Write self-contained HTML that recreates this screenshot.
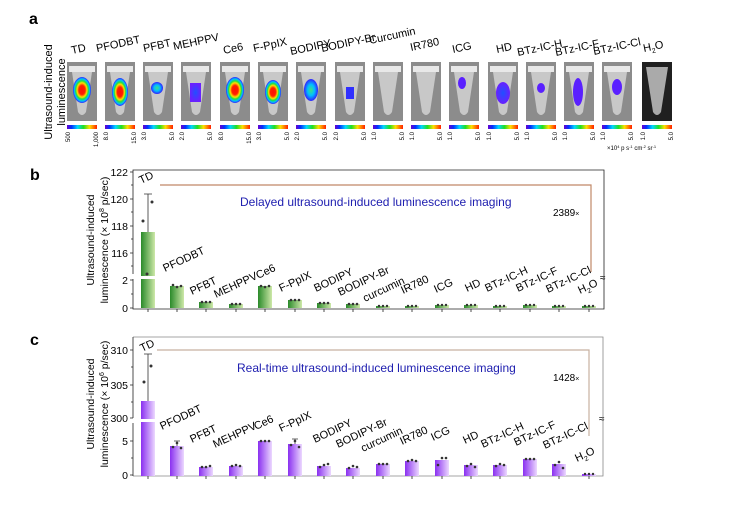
<!DOCTYPE html>
<html><head><meta charset="utf-8"><style>
html,body{margin:0;padding:0;background:#fff}
svg{display:block;font-family:"Liberation Sans",Arial,sans-serif}
</style></head><body>
<svg width="738" height="519" viewBox="0 0 738 519" xmlns="http://www.w3.org/2000/svg">
<defs>
<linearGradient id="cb" x1="0" x2="1"><stop offset="0" stop-color="#6a00d0"/><stop offset=".15" stop-color="#0030ff"/><stop offset=".35" stop-color="#00d8ff"/><stop offset=".55" stop-color="#20e020"/><stop offset=".75" stop-color="#ffe000"/><stop offset="1" stop-color="#ff2000"/></linearGradient>
<linearGradient id="gb" x1="0" x2="1"><stop offset="0" stop-color="#2a8a2a"/><stop offset="1" stop-color="#cde8a8"/></linearGradient>
<linearGradient id="pb" x1="0" x2="1"><stop offset="0" stop-color="#8a30f0"/><stop offset="1" stop-color="#ecd8ff"/></linearGradient>
<radialGradient id="hot"><stop offset="0" stop-color="#ff1000"/><stop offset=".35" stop-color="#ff2000"/><stop offset=".55" stop-color="#ffe000"/><stop offset=".7" stop-color="#20e040"/><stop offset=".85" stop-color="#00c0ff"/><stop offset="1" stop-color="#3020ff"/></radialGradient>
<radialGradient id="mid"><stop offset="0" stop-color="#40e080"/><stop offset=".5" stop-color="#00c0ff"/><stop offset="1" stop-color="#3020ff"/></radialGradient>
<radialGradient id="low"><stop offset="0" stop-color="#2050ff"/><stop offset="1" stop-color="#6a20ff"/></radialGradient>
<g id="tube"><rect x="0" y="0" width="30" height="59" fill="#8c8c8c"/><rect x="2" y="4" width="26" height="6" fill="#e8e8e8"/><path d="M5 10 L25 10 L19 50 Q15 56 11 50 Z" fill="#c8c8c8"/></g>
</defs>
<text x="29" y="24" font-size="16" font-weight="bold">a</text>
<text transform="translate(52,92) rotate(-90)" font-size="11" text-anchor="middle">Ultrasound-induced</text>
<text transform="translate(65,92) rotate(-90)" font-size="11" text-anchor="middle">luminescence</text>
<g font-size="11">
<text transform="translate(72,54) rotate(-12)">TD</text>
<text transform="translate(97,52) rotate(-12)">PFODBT</text>
<text transform="translate(144,52) rotate(-12)">PFBT</text>
<text transform="translate(174,50) rotate(-12)">MEHPPV</text>
<text transform="translate(224,54) rotate(-12)">Ce6</text>
<text transform="translate(254,52) rotate(-12)">F-PpIX</text>
<text transform="translate(291,55) rotate(-12)">BODIPY</text>
<text transform="translate(322,52) rotate(-12)">BODIPY-Br</text>
<text transform="translate(370,44) rotate(-12)" >Curcumin</text>
<text transform="translate(411,51) rotate(-12)">IR780</text>
<text transform="translate(453,53) rotate(-12)">ICG</text>
<text transform="translate(497,53) rotate(-12)">HD</text>
<text transform="translate(518,56) rotate(-12)">BTz-IC-H</text>
<text transform="translate(556,56) rotate(-12)">BTz-IC-F</text>
<text transform="translate(594,55) rotate(-12)">BTz-IC-Cl</text>
<text transform="translate(644,52) rotate(-12)">H<tspan font-size="7" dy="3">2</tspan><tspan dy="-3">O</tspan></text>
</g>
<g>
<use href="#tube" x="67" y="62"/><ellipse cx="82" cy="90" rx="9" ry="13" fill="url(#hot)"/>
<use href="#tube" x="105" y="62"/><ellipse cx="120" cy="92" rx="8" ry="14" fill="url(#hot)"/>
<use href="#tube" x="143" y="62"/><ellipse cx="157" cy="88" rx="6" ry="6" fill="url(#mid)"/>
<use href="#tube" x="181" y="62"/><rect x="190" y="83" width="11" height="19" fill="url(#low)"/>
<use href="#tube" x="220" y="62"/><ellipse cx="235" cy="90" rx="9" ry="13" fill="url(#hot)"/>
<use href="#tube" x="258" y="62"/><ellipse cx="273" cy="92" rx="8" ry="12" fill="url(#hot)"/>
<use href="#tube" x="296" y="62"/><ellipse cx="311" cy="90" rx="7" ry="11" fill="url(#mid)"/>
<use href="#tube" x="335" y="62"/><rect x="346" y="87" width="8" height="12" fill="#3030ff"/>
<use href="#tube" x="373" y="62"/>
<use href="#tube" x="411" y="62"/>
<use href="#tube" x="449" y="62"/><ellipse cx="462" cy="83" rx="4" ry="6" fill="#5a20ff"/>
<use href="#tube" x="488" y="62"/><ellipse cx="503" cy="93" rx="7" ry="11" fill="url(#low)"/>
<use href="#tube" x="526" y="62"/><ellipse cx="541" cy="88" rx="4" ry="5" fill="#5a20ff"/>
<use href="#tube" x="564" y="62"/><ellipse cx="578" cy="92" rx="5" ry="14" fill="#5a20ff"/>
<use href="#tube" x="602" y="62"/><ellipse cx="617" cy="87" rx="5" ry="8" fill="#5a20ff"/>
<rect x="642" y="62" width="30" height="59" fill="#202020"/><path d="M646 67 L668 67 L661 112 Q657 118 653 112 Z" fill="#aaa"/>
</g>
<g fill="url(#cb)">
<rect x="67" y="125" width="30" height="4"/><rect x="105" y="125" width="30" height="4"/><rect x="143" y="125" width="30" height="4"/><rect x="181" y="125" width="30" height="4"/><rect x="220" y="125" width="30" height="4"/><rect x="258" y="125" width="30" height="4"/><rect x="296" y="125" width="30" height="4"/><rect x="335" y="125" width="30" height="4"/><rect x="373" y="125" width="30" height="4"/><rect x="411" y="125" width="30" height="4"/><rect x="449" y="125" width="30" height="4"/><rect x="488" y="125" width="30" height="4"/><rect x="526" y="125" width="30" height="4"/><rect x="564" y="125" width="30" height="4"/><rect x="602" y="125" width="30" height="4"/><rect x="642" y="125" width="30" height="4"/>
</g>
<g font-size="6" text-anchor="end">
<text transform="translate(70,132) rotate(-90)">500</text><text transform="translate(98,132) rotate(-90)">1,000</text>
<text transform="translate(108,132) rotate(-90)">8.0</text><text transform="translate(136,132) rotate(-90)">15.0</text>
<text transform="translate(146,132) rotate(-90)">3.0</text><text transform="translate(174,132) rotate(-90)">5.0</text>
<text transform="translate(184,132) rotate(-90)">2.0</text><text transform="translate(212,132) rotate(-90)">5.0</text>
<text transform="translate(223,132) rotate(-90)">8.0</text><text transform="translate(251,132) rotate(-90)">15.0</text>
<text transform="translate(261,132) rotate(-90)">3.0</text><text transform="translate(289,132) rotate(-90)">5.0</text>
<text transform="translate(299,132) rotate(-90)">2.0</text><text transform="translate(327,132) rotate(-90)">5.0</text>
<text transform="translate(338,132) rotate(-90)">2.0</text><text transform="translate(366,132) rotate(-90)">5.0</text>
<text transform="translate(376,132) rotate(-90)">1.0</text><text transform="translate(404,132) rotate(-90)">5.0</text>
<text transform="translate(414,132) rotate(-90)">1.0</text><text transform="translate(442,132) rotate(-90)">5.0</text>
<text transform="translate(452,132) rotate(-90)">1.0</text><text transform="translate(480,132) rotate(-90)">5.0</text>
<text transform="translate(491,132) rotate(-90)">1.0</text><text transform="translate(519,132) rotate(-90)">5.0</text>
<text transform="translate(529,132) rotate(-90)">1.0</text><text transform="translate(557,132) rotate(-90)">5.0</text>
<text transform="translate(567,132) rotate(-90)">1.0</text><text transform="translate(595,132) rotate(-90)">5.0</text>
<text transform="translate(605,132) rotate(-90)">1.0</text><text transform="translate(633,132) rotate(-90)">5.0</text>
<text transform="translate(645,132) rotate(-90)">1.0</text><text transform="translate(673,132) rotate(-90)">5.0</text>
</g>
<text x="607" y="150" font-size="6">×10<tspan font-size="4" dy="-2">4</tspan><tspan dy="2"> p s</tspan><tspan font-size="4" dy="-2">-1</tspan><tspan dy="2"> cm</tspan><tspan font-size="4" dy="-2">-2</tspan><tspan dy="2"> sr</tspan><tspan font-size="4" dy="-2">-1</tspan></text>

<!-- panel b -->
<text x="30" y="180" font-size="16" font-weight="bold">b</text>
<text transform="translate(94,240) rotate(-90)" font-size="10.5" text-anchor="middle">Ultrasound-induced</text>
<text transform="translate(108,240) rotate(-90)" font-size="10.5" text-anchor="middle">luminescence (× 10<tspan font-size="7" dy="-4">8</tspan><tspan dy="4"> p/sec)</tspan></text>
<path d="M133 170 H604 V309 H133 Z" fill="none" stroke="#222" stroke-width="0.8"/>
<rect x="131" y="274" width="5" height="5" fill="#fff"/>
<g font-size="10.5" text-anchor="end">
<text x="128" y="176">122</text><text x="128" y="203">120</text><text x="128" y="230">118</text><text x="128" y="257">116</text><text x="128" y="284">2</text><text x="128" y="312">0</text>
</g>
<g stroke="#222" stroke-width="0.8"><path d="M133 172h-3M133 199h-3M133 226h-3M133 253h-3M133 280h-3M133 308h-3M133 185h-2M133 212h-2M133 239h-2M133 266h-2M133 294h-2"/></g>
<path d="M160 185 H591 V272" fill="none" stroke="#c08868" stroke-width="1.2"/>
<text x="240" y="206" font-size="12" fill="#2020b0">Delayed ultrasound-induced luminescence  imaging</text>
<text x="553" y="216" font-size="10">2389<tspan font-size="7">×</tspan></text>
<g fill="url(#gb)">
<rect x="141" y="232" width="14" height="76"/>
<rect x="170" y="286" width="14" height="22"/><rect x="199" y="302" width="14" height="6"/><rect x="229" y="304" width="14" height="4"/><rect x="258" y="286" width="14" height="22"/><rect x="288" y="300" width="14" height="8"/><rect x="317" y="303" width="14" height="5"/><rect x="346" y="304" width="14" height="4"/><rect x="376" y="306" width="14" height="2"/><rect x="405" y="306" width="14" height="2"/><rect x="435" y="305" width="14" height="3"/><rect x="464" y="305" width="14" height="3"/><rect x="493" y="306" width="14" height="2"/><rect x="523" y="305" width="14" height="3"/><rect x="552" y="306" width="14" height="2"/><rect x="582" y="306" width="14" height="2"/>
</g>
<rect x="138" y="276" width="20" height="3" fill="#fff"/>
<path d="M148 232V194M144 194h8" stroke="#333" stroke-width="0.8"/>
<g fill="#333"><circle cx="143" cy="221" r="1.5"/><circle cx="152" cy="202" r="1.5"/><circle cx="147" cy="274" r="1.5"/>
<circle cx="173" cy="285" r="1.3"/><circle cx="177" cy="287" r="1.3"/><circle cx="181" cy="286" r="1.3"/>
<circle cx="202" cy="302" r="1.3"/><circle cx="206" cy="302" r="1.3"/><circle cx="210" cy="302" r="1.3"/>
<circle cx="232" cy="304" r="1.3"/><circle cx="236" cy="304" r="1.3"/><circle cx="240" cy="304" r="1.3"/>
<circle cx="261" cy="286" r="1.3"/><circle cx="265" cy="287" r="1.3"/><circle cx="269" cy="286" r="1.3"/>
<circle cx="291" cy="300" r="1.3"/><circle cx="295" cy="300" r="1.3"/><circle cx="299" cy="300" r="1.3"/>
<circle cx="320" cy="303" r="1.3"/><circle cx="324" cy="303" r="1.3"/><circle cx="328" cy="303" r="1.3"/>
<circle cx="349" cy="304" r="1.3"/><circle cx="353" cy="304" r="1.3"/><circle cx="357" cy="304" r="1.3"/>
<circle cx="379" cy="306" r="1.2"/><circle cx="383" cy="306" r="1.2"/><circle cx="387" cy="306" r="1.2"/>
<circle cx="408" cy="306" r="1.2"/><circle cx="412" cy="306" r="1.2"/><circle cx="416" cy="306" r="1.2"/>
<circle cx="438" cy="305" r="1.2"/><circle cx="442" cy="305" r="1.2"/><circle cx="446" cy="305" r="1.2"/>
<circle cx="467" cy="305" r="1.2"/><circle cx="471" cy="305" r="1.2"/><circle cx="475" cy="305" r="1.2"/>
<circle cx="496" cy="306" r="1.2"/><circle cx="500" cy="306" r="1.2"/><circle cx="504" cy="306" r="1.2"/>
<circle cx="526" cy="305" r="1.2"/><circle cx="530" cy="305" r="1.2"/><circle cx="534" cy="305" r="1.2"/>
<circle cx="555" cy="306" r="1.2"/><circle cx="559" cy="306" r="1.2"/><circle cx="563" cy="306" r="1.2"/>
<circle cx="585" cy="306" r="1.2"/><circle cx="589" cy="306" r="1.2"/><circle cx="593" cy="306" r="1.2"/></g>
<g stroke="#222" stroke-width="0.8"><path d="M148 309v3M177 309v3M206 309v3M236 309v3M265 309v3M295 309v3M324 309v3M353 309v3M383 309v3M412 309v3M442 309v3M471 309v3M500 309v3M530 309v3M559 309v3M589 309v3"/></g>
<text x="600" y="281" font-size="10">≈</text>
<g font-size="11">
<text transform="translate(141,184) rotate(-25)">TD</text>
<text transform="translate(165,272) rotate(-25)">PFODBT</text>
<text transform="translate(192,295) rotate(-25)">PFBT</text>
<text transform="translate(216,298) rotate(-25)">MEHPPV</text>
<text transform="translate(258,279) rotate(-25)">Ce6</text>
<text transform="translate(281,292) rotate(-25)">F-PpIX</text>
<text transform="translate(316,292) rotate(-25)">BODIPY</text>
<text transform="translate(340,296) rotate(-25)">BODIPY-Br</text>
<text transform="translate(365,302) rotate(-25)">curcumin</text>
<text transform="translate(403,294) rotate(-25)">IR780</text>
<text transform="translate(436,293) rotate(-25)">ICG</text>
<text transform="translate(467,292) rotate(-25)">HD</text>
<text transform="translate(487,292) rotate(-25)">BTz-IC-H</text>
<text transform="translate(518,292) rotate(-25)">BTz-IC-F</text>
<text transform="translate(548,293) rotate(-25)">BTz-IC-Cl</text>
<text transform="translate(580,294) rotate(-25)">H<tspan font-size="7" dy="3">2</tspan><tspan dy="-3">O</tspan></text>
</g>

<!-- panel c -->
<text x="30" y="345" font-size="16" font-weight="bold">c</text>
<text transform="translate(94,404) rotate(-90)" font-size="10.5" text-anchor="middle">Ultrasound-induced</text>
<text transform="translate(108,404) rotate(-90)" font-size="10.5" text-anchor="middle">luminescence (× 10<tspan font-size="7" dy="-4">6</tspan><tspan dy="4"> p/sec)</tspan></text>
<path d="M133 337 H603 V476 H133" fill="none" stroke="#888" stroke-width="0.8"/>
<path d="M133 337 V476" stroke="#222" stroke-width="0.8"/>
<rect x="131" y="418" width="5" height="5" fill="#fff"/>
<g font-size="10.5" text-anchor="end">
<text x="128" y="354">310</text><text x="128" y="389">305</text><text x="128" y="422">300</text><text x="128" y="445">5</text><text x="128" y="479">0</text>
</g>
<g stroke="#222" stroke-width="0.8"><path d="M133 350h-3M133 385h-3M133 418h-3M133 441h-3M133 475h-3M133 367h-2M133 402h-2M133 458h-2"/></g>
<path d="M157 350 H589 V436" fill="none" stroke="#c8b0a0" stroke-width="1.2"/>
<text x="237" y="372" font-size="12" fill="#2020b0">Real-time ultrasound-induced luminescence  imaging</text>
<text x="553" y="381" font-size="10">1428<tspan font-size="7">×</tspan></text>
<g fill="url(#pb)">
<rect x="141" y="401" width="14" height="75"/>
<rect x="170" y="446" width="14" height="30"/><rect x="199" y="467" width="14" height="9"/><rect x="229" y="466" width="14" height="10"/><rect x="258" y="441" width="14" height="35"/><rect x="288" y="444" width="14" height="32"/><rect x="317" y="466" width="14" height="10"/><rect x="346" y="468" width="14" height="8"/><rect x="376" y="464" width="14" height="12"/><rect x="405" y="461" width="14" height="15"/><rect x="435" y="460" width="14" height="16"/><rect x="464" y="465" width="14" height="11"/><rect x="493" y="465" width="14" height="11"/><rect x="523" y="459" width="14" height="17"/><rect x="552" y="464" width="14" height="12"/><rect x="582" y="474" width="14" height="2"/>
</g>
<rect x="138" y="419" width="20" height="3" fill="#fff"/>
<path d="M148 401V354M144 354h8M177 446v-5M174 441h6M295 444v-5M292 439h6" stroke="#333" stroke-width="0.8"/>
<g fill="#333"><circle cx="144" cy="382" r="1.5"/><circle cx="151" cy="366" r="1.5"/>
<circle cx="173" cy="447" r="1.3"/><circle cx="177" cy="443" r="1.3"/><circle cx="181" cy="448" r="1.3"/>
<circle cx="202" cy="467" r="1.3"/><circle cx="206" cy="467" r="1.3"/><circle cx="210" cy="466" r="1.3"/>
<circle cx="232" cy="466" r="1.3"/><circle cx="236" cy="465" r="1.3"/><circle cx="240" cy="466" r="1.3"/>
<circle cx="261" cy="441" r="1.3"/><circle cx="265" cy="441" r="1.3"/><circle cx="269" cy="441" r="1.3"/>
<circle cx="291" cy="445" r="1.3"/><circle cx="295" cy="441" r="1.3"/><circle cx="299" cy="447" r="1.3"/>
<circle cx="320" cy="467" r="1.3"/><circle cx="324" cy="465" r="1.3"/><circle cx="328" cy="464" r="1.3"/>
<circle cx="349" cy="468" r="1.3"/><circle cx="353" cy="466" r="1.3"/><circle cx="357" cy="467" r="1.3"/>
<circle cx="379" cy="464" r="1.3"/><circle cx="383" cy="464" r="1.3"/><circle cx="387" cy="464" r="1.3"/>
<circle cx="408" cy="461" r="1.3"/><circle cx="412" cy="460" r="1.3"/><circle cx="416" cy="461" r="1.3"/>
<circle cx="438" cy="465" r="1.3"/><circle cx="442" cy="458" r="1.3"/><circle cx="446" cy="458" r="1.3"/>
<circle cx="467" cy="466" r="1.3"/><circle cx="471" cy="464" r="1.3"/><circle cx="475" cy="467" r="1.3"/>
<circle cx="496" cy="466" r="1.3"/><circle cx="500" cy="464" r="1.3"/><circle cx="504" cy="465" r="1.3"/>
<circle cx="526" cy="459" r="1.3"/><circle cx="530" cy="459" r="1.3"/><circle cx="534" cy="459" r="1.3"/>
<circle cx="555" cy="465" r="1.3"/><circle cx="559" cy="462" r="1.3"/><circle cx="563" cy="468" r="1.3"/>
<circle cx="585" cy="474" r="1.2"/><circle cx="589" cy="474" r="1.2"/><circle cx="593" cy="474" r="1.2"/></g>
<g stroke="#222" stroke-width="0.8"><path d="M148 476v3M177 476v3M206 476v3M236 476v3M265 476v3M295 476v3M324 476v3M353 476v3M383 476v3M412 476v3M442 476v3M471 476v3M500 476v3M530 476v3M559 476v3M589 476v3"/></g>
<text x="599" y="422" font-size="10">≈</text>
<g font-size="11">
<text transform="translate(142,352) rotate(-25)">TD</text>
<text transform="translate(162,430) rotate(-25)">PFODBT</text>
<text transform="translate(192,443) rotate(-25)">PFBT</text>
<text transform="translate(215,448) rotate(-25)">MEHPPV</text>
<text transform="translate(256,430) rotate(-25)">Ce6</text>
<text transform="translate(281,432) rotate(-25)">F-PpIX</text>
<text transform="translate(315,443) rotate(-25)">BODIPY</text>
<text transform="translate(338,448) rotate(-25)">BODIPY-Br</text>
<text transform="translate(363,452) rotate(-25)">curcumin</text>
<text transform="translate(402,445) rotate(-25)">IR780</text>
<text transform="translate(433,441) rotate(-25)">ICG</text>
<text transform="translate(465,444) rotate(-25)">HD</text>
<text transform="translate(483,448) rotate(-25)">BTz-IC-H</text>
<text transform="translate(516,446) rotate(-25)">BTz-IC-F</text>
<text transform="translate(545,449) rotate(-25)">BTz-IC-Cl</text>
<text transform="translate(577,462) rotate(-25)">H<tspan font-size="7" dy="3">2</tspan><tspan dy="-3">O</tspan></text>
</g>
</svg>
</body></html>
